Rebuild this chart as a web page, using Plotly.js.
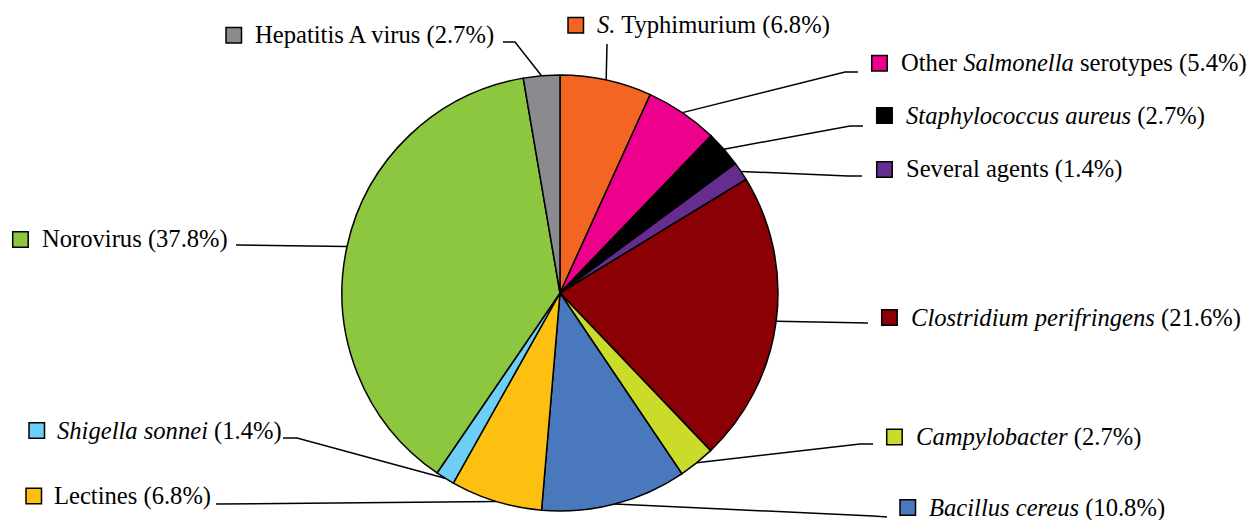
<!DOCTYPE html>
<html><head><meta charset="utf-8">
<script src="https://cdn.plot.ly/plotly-3.0.1.min.js"></script>
<style>html,body{margin:0;padding:0;background:#fff;}#chart{width:1252px;height:520px;}</style>
</head><body><div id="chart"></div>
<script>
// ---- data ----
const categories = ['<i>S.</i> Typhimurium', 'Other <i>Salmonella</i> serotypes', '<i>Staphylococcus aureus</i>',
  'Several agents', '<i>Clostridium perifringens</i>', '<i>Campylobacter</i>', '<i>Bacillus cereus</i>',
  'Lectines', '<i>Shigella sonnei</i>', 'Norovirus', 'Hepatitis A virus'];
const percentages = [6.8, 5.4, 2.7, 1.4, 21.6, 2.7, 10.8, 6.8, 1.4, 37.8, 2.7];
const colors = ['#F26522', '#EC008C', '#000000', '#662D91', '#8B0004', '#CBDB2A', '#4A78BC',
  '#FDC010', '#6DCFF6', '#8DC63F', '#8A8B8E'];

// ---- label placement (pixels) ----
const W = 1252, H = 520;
const CX = 560, CY = 293, R = 218;
const labelPlace = [
  {sqX: 568,   sqY: 25.2,  textX: 598,   path: [[607, 44]]},
  {sqX: 871.7, sqY: 63.3,  textX: 902,   path: [[845, 72], [858, 72]]},
  {sqX: 876.7, sqY: 115.5, textX: 907,   path: [[850, 126], [863, 126]]},
  {sqX: 876.7, sqY: 169.5, textX: 907,   path: [[848, 176], [862, 176]]},
  {sqX: 881.7, sqY: 317.5, textX: 911.7, path: [[868, 323]]},
  {sqX: 886.7, sqY: 437,   textX: 917,   path: [[860, 444], [873, 444]]},
  {sqX: 900,   sqY: 507.5, textX: 930,   path: [[873, 516], [887, 517]]},
  {sqX: 26,    sqY: 496,   textX: 55,    path: [[216, 504]]},
  {sqX: 29,    sqY: 430.5, textX: 58,    path: [[297, 438], [283, 438]]},
  {sqX: 12.7,  sqY: 239.5, textX: 43,    path: [[236, 245]]},
  {sqX: 226,   sqY: 35.3,  textX: 256,   path: [[515, 42], [503, 42]]}
];
const SQ = 15.5;
const FONT = '"Liberation Serif", "Times New Roman", serif';

const px = x => x / W;
const py = y => 1 - y / H;

const total = percentages.reduce((a, b) => a + b, 0);
const shapes = [];
const annotations = [];
let cum = 0;
percentages.forEach((v, i) => {
  const mid = (cum + v / 2) / total * 2 * Math.PI;
  cum += v;
  const sx = CX + R * Math.sin(mid), sy = CY - R * Math.cos(mid);
  const lp = labelPlace[i];
  let d = 'M' + px(sx) + ',' + py(sy);
  lp.path.forEach(p => { d += ' L' + px(p[0]) + ',' + py(p[1]); });
  shapes.push({type: 'path', xref: 'paper', yref: 'paper', path: d, line: {color: '#000', width: 1.5}});
  shapes.push({type: 'rect', xref: 'paper', yref: 'paper',
    x0: px(lp.sqX), x1: px(lp.sqX + SQ), y0: py(lp.sqY + SQ / 2), y1: py(lp.sqY - SQ / 2),
    fillcolor: colors[i], line: {color: '#000', width: 1.5}});
  annotations.push({xref: 'paper', yref: 'paper', x: px(lp.textX - 3), y: py(lp.sqY),
    xanchor: 'left', yanchor: 'middle', showarrow: false,
    text: categories[i] + ' (' + v.toFixed(1) + '%)',
    font: {family: FONT, size: 24.6, color: '#000'}});
});

const trace = {
  type: 'pie', values: percentages, labels: categories, sort: false, direction: 'clockwise',
  rotation: 0, textinfo: 'none', hoverinfo: 'skip',
  marker: {colors: colors, line: {color: '#000', width: 1.5}},
  domain: {x: [px(CX - R), px(CX + R)], y: [py(CY + R), py(CY - R)]}
};

Plotly.newPlot('chart', [trace], {
  width: W, height: H, margin: {l: 0, r: 0, t: 0, b: 0},
  paper_bgcolor: '#fff', showlegend: false, shapes: shapes, annotations: annotations
}, {displayModeBar: false, staticPlot: true});
</script></body></html>
